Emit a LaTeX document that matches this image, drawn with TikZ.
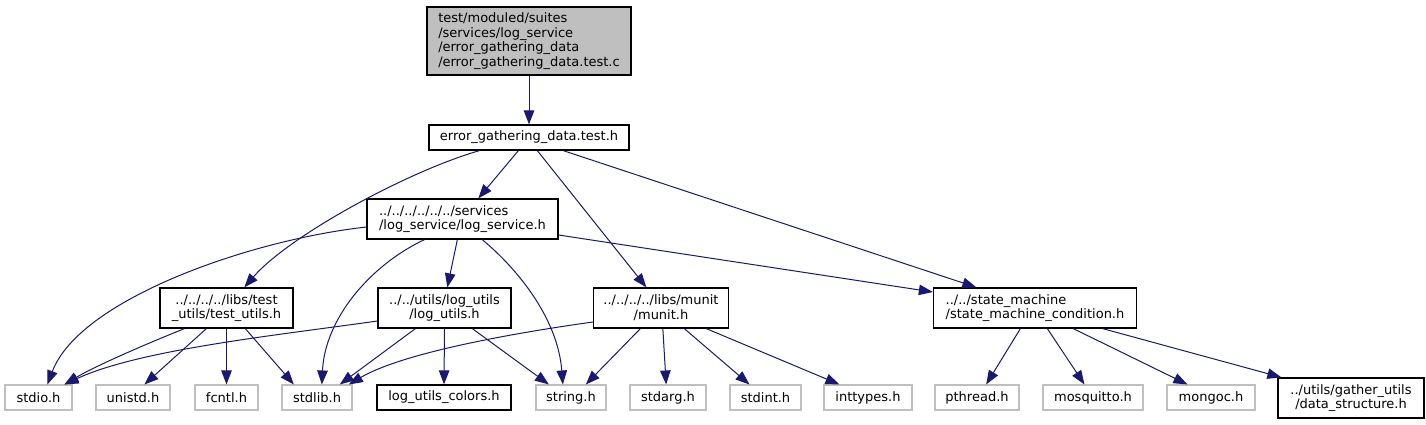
\documentclass[tikz,border=0pt]{standalone}
\usepackage{fontspec}
\setmainfont{DejaVu Sans}
\usetikzlibrary{arrows.meta}
\definecolor{edgeblue}{HTML}{191970}
\definecolor{leafgray}{HTML}{BFBFBF}
\definecolor{rootfill}{HTML}{BFBFBF}
\tikzset{
  hdr/.style={draw=black, line width=1.3pt, inner sep=0pt, fill=white, align=center},
  leafbox/.style={draw=leafgray, line width=1.1pt, inner sep=0pt, fill=white, minimum height=25pt},
  edge/.style={draw=edgeblue, line width=1pt, -{Triangle[length=14pt,width=10.5pt]}},
}
\begin{document}
\begin{tikzpicture}[x=1pt,y=-1pt, font=\fontsize{13}{14.8}\selectfont]
\path[fill=white] (0,0) rectangle (1426,424);
\useasboundingbox (0,0) rectangle (1426,424);

% upper nodes
\node[hdr, fill=rootfill, align=left, minimum width=204pt, minimum height=68pt] (root) at (529,41)
  {test/moduled/suites\\/services/log\_service\\/error\_gathering\_data\\/error\_gathering\_data.test.c};
\node[hdr, minimum width=200pt, minimum height=25pt] (egd) at (529,137.5) {error\_gathering\_data.test.h};
\node[hdr, align=left, minimum width=191pt, minimum height=40pt] (lsvc) at (462.5,219)
  {../../../../../../services\\/log\_service/log\_service.h};
\node[hdr, minimum width=133pt, minimum height=40pt] (tu) at (226.5,308)
  {../../../../libs/test\\\_utils/test\_utils.h};
\node[hdr, minimum width=133pt, minimum height=40pt] (lu) at (444.5,308)
  {../../utils/log\_utils\\/log\_utils.h};
\node[hdr, minimum width=135pt, minimum height=40pt] (mu) at (661,308)
  {../../../../libs/munit\\/munit.h};
\node[hdr, align=left, minimum width=203pt, minimum height=40pt] (sm) at (1035,308)
  {../../state\_machine\\/state\_machine\_condition.h};

% leaves
\node[leafbox, minimum width=67pt] (stdio) at (38.5,397.5) {stdio.h};
\node[leafbox, minimum width=74pt] (unistd) at (133,397.5) {unistd.h};
\node[leafbox, minimum width=63pt] (fcntl) at (226.5,397.5) {fcntl.h};
\node[leafbox, minimum width=70pt] (stdlib) at (317,397.5) {stdlib.h};
\node[hdr, minimum width=134pt, minimum height=25pt] (colors) at (444,397.5) {log\_utils\_colors.h};
\node[leafbox, minimum width=70pt] (string) at (571,397.5) {string.h};
\node[leafbox, minimum width=76pt] (stdarg) at (668,397.5) {stdarg.h};
\node[leafbox, minimum width=71pt] (stdint) at (765.5,397.5) {stdint.h};
\node[leafbox, minimum width=88pt] (inttypes) at (868,397.5) {inttypes.h};
\node[leafbox, minimum width=84pt] (pthread) at (977,397.5) {pthread.h};
\node[leafbox, minimum width=100pt] (mosq) at (1093,397.5) {mosquitto.h};
\node[leafbox, minimum width=88pt] (mongoc) at (1211,397.5) {mongoc.h};
\node[hdr, minimum width=146pt, minimum height=40pt] (ds) at (1351,398)
  {../utils/gather\_utils\\/data\_structure.h};

% edges from root and egd
\draw[edge] (root.south) -- (egd.north);
\draw[edge] ([xshift=90pt]egd.south west) -- ([xshift=112pt]lsvc.north west);
\draw[edge] ([xshift=51pt]egd.south west) .. controls +(-70,20) and +(45,-52) .. ([xshift=85pt]tu.north west);
\draw[edge] ([xshift=109pt]egd.south west) -- ([xshift=53.5pt]mu.north west);
\draw[edge] ([xshift=135pt]egd.south west) -- ([xshift=43.5pt]sm.north west);

% edges from log_service
\draw[edge] ([yshift=-8pt]lsvc.west) .. controls +(-117,13) and +(32,-85) .. ([xshift=43pt]stdio.north west);
\draw[edge] ([xshift=58pt]lsvc.south west) .. controls +(-55,26) and +(3,-65) .. ([xshift=40.4pt]stdlib.north west);
\draw[edge] ([xshift=91pt]lsvc.south west) -- ([xshift=70pt]lu.north west);
\draw[edge] ([xshift=116pt]lsvc.south west) .. controls +(37,31) and +(-5,-65) .. ([xshift=27.4pt]string.north west);
\draw[edge] ([yshift=-16pt]lsvc.east) -- ([yshift=16pt]sm.west);

% edges from test_utils
\draw[edge] ([xshift=25pt]tu.south west) .. controls +(-40,16) and +(30,-18) .. ([xshift=60pt]stdio.north west);
\draw[edge] ([xshift=47pt]tu.south west) -- ([xshift=49pt]unistd.north west);
\draw[edge] (tu.south) -- (fcntl.north);
\draw[edge] ([xshift=86pt]tu.south west) -- ([xshift=12.4pt]stdlib.north west);

% edges from log_utils
\draw[edge] ([yshift=-13pt]lu.west) .. controls +(-98,14) and +(75,-35) .. ([xshift=60pt]stdio.north west);
\draw[edge] ([xshift=38pt]lu.south west) -- ([xshift=58.4pt]stdlib.north west);
\draw[edge] (lu.south) -- (colors.north);
\draw[edge] ([xshift=95pt]lu.south west) -- ([xshift=13.4pt]string.north west);

% edges from munit
\draw[edge] ([yshift=-14pt]mu.west) .. controls +(-93,13) and +(51,-30) .. ([xshift=67.4pt]stdlib.north west);
\draw[edge] ([xshift=47.5pt]mu.south west) -- ([xshift=50.4pt]string.north west);
\draw[edge] ([xshift=70pt]mu.south west) -- ([xshift=36.7pt]stdarg.north west);
\draw[edge] ([xshift=91.5pt]mu.south west) -- ([xshift=20pt]stdint.north west);
\draw[edge] ([xshift=113.5pt]mu.south west) -- ([xshift=16pt]inttypes.north west);

% edges from state_machine
\draw[edge] ([xshift=87.5pt]sm.south west) -- ([xshift=51.7pt]pthread.north west);
\draw[edge] ([xshift=114.5pt]sm.south west) -- ([xshift=42pt]mosq.north west);
\draw[edge] ([xshift=140.5pt]sm.south west) -- ([xshift=21pt]mongoc.north west);
\draw[edge] ([xshift=170pt]sm.south west) -- ([xshift=4pt]ds.north west);
\end{tikzpicture}
\end{document}
